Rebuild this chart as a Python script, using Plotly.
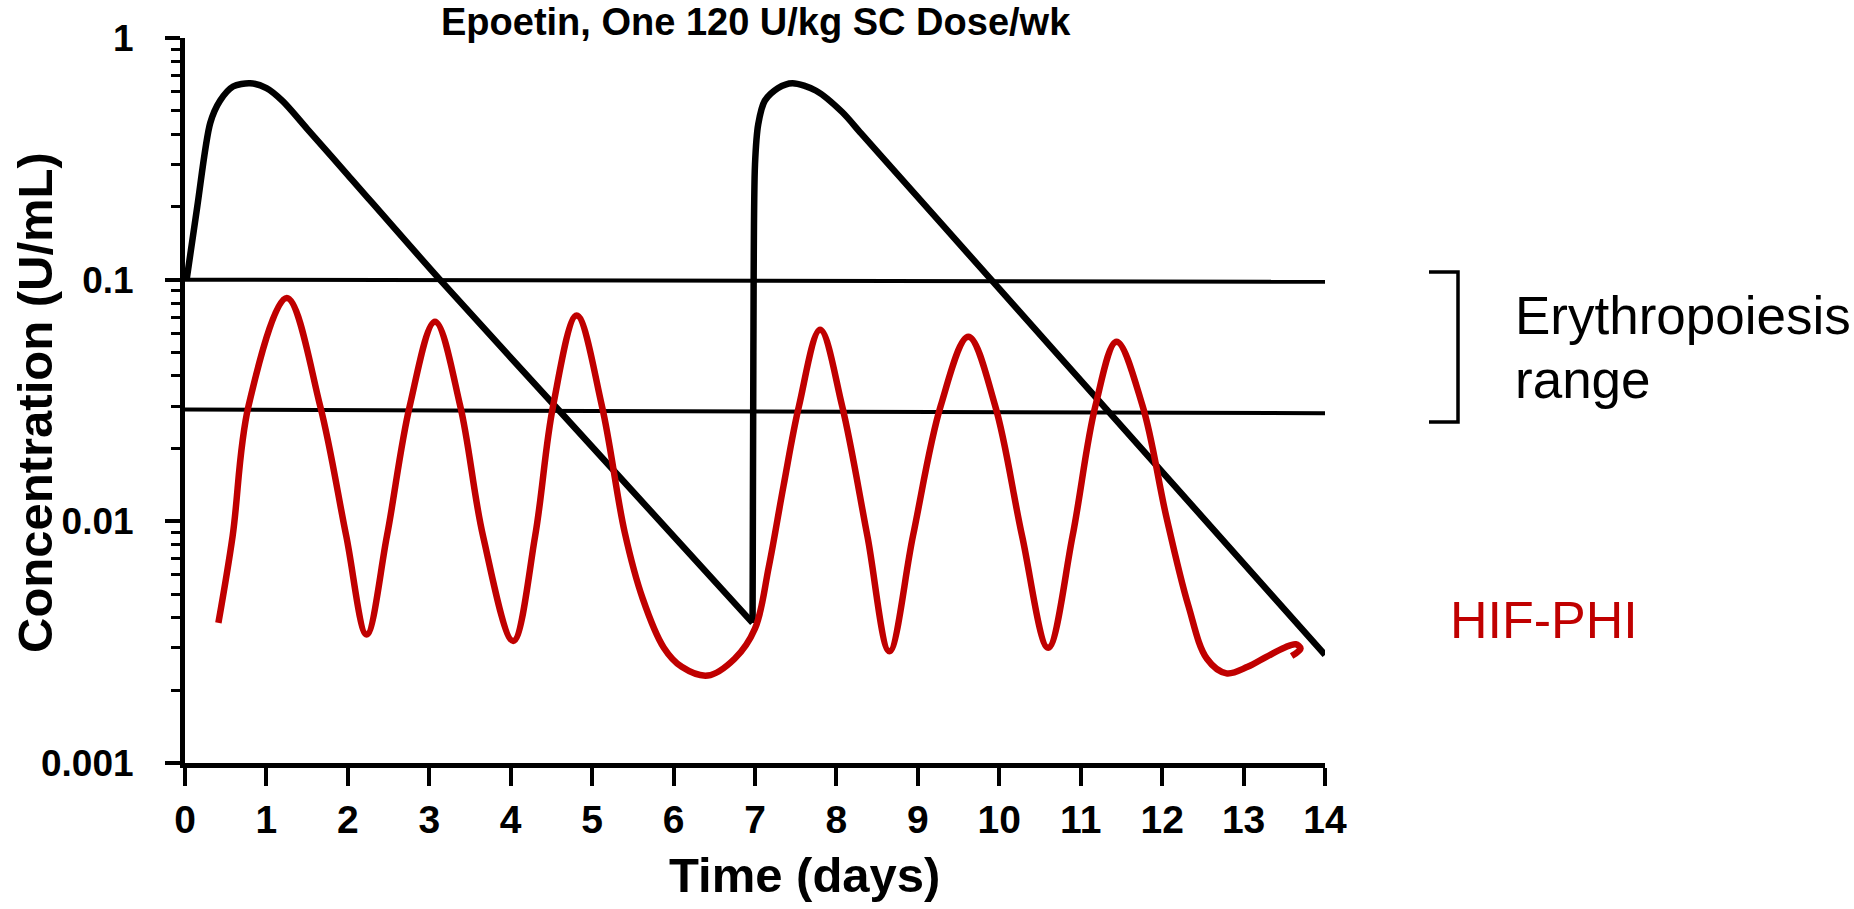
import plotly.graph_objects as go

# ---------------- data ----------------
# Epoetin (black), first weekly dose
epo1_day = [0.02, 0.15, 0.31, 0.43, 0.59, 0.80, 1.00, 1.20, 1.50, 2.00, 3.13, 4.65, 6.97]
epo1_conc = [0.10, 0.20, 0.445, 0.55, 0.63, 0.65, 0.62, 0.548, 0.421, 0.271, 0.10, 0.0274, 0.0038]
# Epoetin (black), second weekly dose
epo2_day = [6.97, 6.98, 7.00, 7.04, 7.12, 7.28, 7.46, 7.75, 8.07, 8.30, 8.60, 9.90, 11.32, 14.0]
epo2_conc = [0.0038, 0.05, 0.30, 0.44, 0.55, 0.62, 0.65, 0.605, 0.494, 0.404, 0.311, 0.10, 0.029, 0.0028]

# HIF-PHI (red)
hif_day = [0.41, 0.585, 0.78, 1.25, 1.66, 1.98, 2.23,
           2.48, 2.76, 3.07, 3.38, 3.66, 4.03,
           4.30, 4.52, 4.81, 5.12, 5.40, 5.62, 5.88, 6.10, 6.42,
           6.75, 7.00, 7.17, 7.35, 7.54, 7.80, 8.07, 8.38, 8.65,
           8.94, 9.28, 9.62, 9.95, 10.28, 10.60,
           10.90, 11.18, 11.44, 11.76, 12.05, 12.32, 12.55, 12.79,
           13.05, 13.28, 13.50, 13.64, 13.70, 13.59]
hif_conc = [0.0038, 0.0087, 0.030, 0.084, 0.030, 0.0087, 0.0034,
            0.0087, 0.030, 0.067, 0.030, 0.0087, 0.0032,
            0.0087, 0.030, 0.071, 0.030, 0.0090, 0.0048, 0.0030, 0.0025, 0.0023,
            0.0027, 0.0036, 0.0065, 0.014, 0.030, 0.062, 0.030, 0.0087, 0.0029,
            0.0087, 0.030, 0.058, 0.030, 0.0087, 0.0030,
            0.0087, 0.030, 0.0554, 0.030, 0.0105, 0.0045, 0.0027, 0.00235,
            0.0025, 0.00275, 0.0030, 0.0031, 0.00298, 0.00277]

# Erythropoiesis range boundaries
range_day = [0, 14]
upper_conc = [0.100, 0.098]
lower_conc = [0.029, 0.028]

x_ticks = list(range(0, 15))
y_tickvals = [0.001, 0.01, 0.1, 1]
y_ticktext = ["0.001", "0.01", "0.1", "1"]

RED = "#C00000"
FONT = "Arial, Liberation Sans, Helvetica, sans-serif"

# ---------------- figure ----------------
W, H = 1854, 909
L, R, T, B = 185, 529, 38, 146
PW, PH = W - L - R, H - T - B


def px(xp):
    return (xp - L) / PW


def py(yp):
    return (H - B - yp) / PH


fig = go.Figure()
fig.add_trace(go.Scatter(x=range_day, y=upper_conc, mode="lines",
                         line=dict(color="black", width=4), showlegend=False))
fig.add_trace(go.Scatter(x=range_day, y=lower_conc, mode="lines",
                         line=dict(color="black", width=4), showlegend=False))
fig.add_trace(go.Scatter(x=epo1_day, y=epo1_conc, mode="lines",
                         line=dict(color="black", width=6.5, shape="spline", smoothing=0.8),
                         showlegend=False))
fig.add_trace(go.Scatter(x=epo2_day, y=epo2_conc, mode="lines",
                         line=dict(color="black", width=6.5, shape="spline", smoothing=0.8),
                         showlegend=False))
fig.add_trace(go.Scatter(x=hif_day, y=hif_conc, mode="lines",
                         line=dict(color=RED, width=6.5, shape="spline", smoothing=1.0),
                         showlegend=False))

fig.update_layout(
    width=W, height=H, autosize=False,
    margin=dict(l=L, r=R, t=T, b=B, pad=0),
    paper_bgcolor="white", plot_bgcolor="white",
    font=dict(family=FONT, color="black"),
    xaxis=dict(range=[0, 14], tickvals=x_ticks, ticks="outside", ticklen=18, tickwidth=4,
               tickcolor="black", showline=True, linewidth=5, linecolor="black",
               showgrid=False, zeroline=False,
               tickfont=dict(size=39, family=FONT, weight="bold"),
               ticklabelstandoff=0),
    yaxis=dict(type="log", range=[-3, 0], tickvals=y_tickvals, ticktext=y_ticktext,
               ticks="outside", ticklen=15, tickwidth=4, tickcolor="black",
               showline=True, linewidth=5, linecolor="black", showgrid=False,
               zeroline=False, tickfont=dict(size=37, family=FONT, weight="bold"),
               ticklabelstandoff=24,
               minor=dict(ticks="outside", ticklen=9, tickwidth=3, tickcolor="black",
                          dtick="D1", showgrid=False)),
)

ann = [
    dict(text="Epoetin, One 120 U/kg SC Dose/wk", x=px(756), y=py(22),
         font=dict(size=38, color="black", weight="bold")),
    dict(text="Time (days)", x=px(804), y=py(875),
         font=dict(size=49, color="black", weight="bold")),
    dict(text="Concentration (U/mL)", x=px(35), y=py(403), textangle=-90,
         font=dict(size=49, color="black", weight="bold")),
    dict(text="Erythropoiesis", x=px(1513), y=py(315), xanchor="left",
         font=dict(size=53, color="black")),
    dict(text="range", x=px(1513), y=py(379), xanchor="left",
         font=dict(size=53, color="black")),
    dict(text="HIF-PHI", x=px(1448), y=py(620), xanchor="left",
         font=dict(size=52, color=RED)),
]
for a in ann:
    a.update(xref="paper", yref="paper", showarrow=False,
             yanchor="middle", xanchor=a.get("xanchor", "center"))
    a["font"]["family"] = FONT
fig.update_layout(annotations=ann)

# bracket marking the erythropoiesis range
bx0, bx1, by0, by1 = px(1429), px(1458), py(272), py(422)
fig.add_shape(type="path", xref="paper", yref="paper",
              path=f"M {bx0},{by0} L {bx1},{by0} L {bx1},{by1} L {bx0},{by1}",
              line=dict(color="black", width=3.5))

fig.write_html("out.html")
